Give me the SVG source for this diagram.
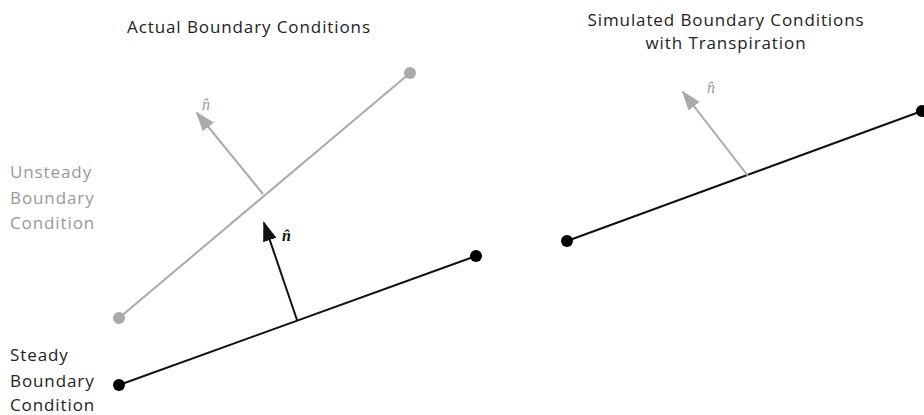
<svg xmlns="http://www.w3.org/2000/svg" width="924" height="415" viewBox="0 0 924 415">
<style>
.t{font-family:"Open Sans","DejaVu Sans",sans-serif;font-size:17px;letter-spacing:0.9px;fill:#222}
.g{fill:#999}
.n{font-family:"Liberation Serif","DejaVu Serif",serif;font-style:italic;font-size:16px}
.gl{stroke:#aaa;stroke-width:2;fill:none}
.bl{stroke:#111;stroke-width:2;fill:none}
</style>
<defs>
<marker id="ag" viewBox="0 0 20 14" refX="18" refY="7" markerWidth="20" markerHeight="14" markerUnits="userSpaceOnUse" orient="auto"><path d="M0,0 L20,7 L0,14 Z" fill="#aaa"/></marker>
<marker id="ab" viewBox="0 0 20 14" refX="18" refY="7" markerWidth="20" markerHeight="14" markerUnits="userSpaceOnUse" orient="auto"><path d="M0,0 L20,7 L0,14 Z" fill="#111"/></marker>
</defs>
<g id="connectors">
<line id="unsteady-line" class="gl" x1="119" y1="318" x2="410" y2="73"/>
<line id="unsteady-normal" class="gl" x1="263" y1="194" x2="197" y2="113" marker-end="url(#ag)"/>
<line id="steady-line" class="bl" x1="119" y1="385" x2="476" y2="256"/>
<line id="steady-normal" class="bl" x1="297" y1="320" x2="264" y2="223" marker-end="url(#ab)"/>
<line id="sim-line" class="bl" x1="567" y1="241" x2="922" y2="111"/>
<line id="sim-normal" class="gl" x1="748" y1="176" x2="683" y2="92" marker-end="url(#ag)"/>
</g>
<g id="unsteady-ends"><circle cx="119" cy="318" r="6" fill="#aaa"/><circle cx="410" cy="73" r="6" fill="#aaa"/></g>
<g id="steady-ends"><circle cx="119" cy="385" r="6" fill="#000"/><circle cx="476" cy="256" r="6" fill="#000"/></g>
<g id="sim-ends"><circle cx="567" cy="241" r="6" fill="#000"/><circle cx="922" cy="111" r="6" fill="#000"/></g>
<g id="labels">
<text class="t" x="249" y="33" text-anchor="middle">Actual Boundary Conditions</text>
<text class="t" x="726" y="26" text-anchor="middle">Simulated Boundary Conditions</text>
<text class="t" x="726" y="49" text-anchor="middle">with Transpiration</text>
<text class="t g" x="10" y="178">Unsteady</text>
<text class="t g" x="10" y="204">Boundary</text>
<text class="t g" x="10" y="229">Condition</text>
<text class="t" x="10" y="361">Steady</text>
<text class="t" x="10" y="387">Boundary</text>
<text class="t" x="10" y="411">Condition</text>
<text class="n" x="202" y="110" fill="#999">n̂</text>
<text class="n" x="282" y="241" fill="#111" font-weight="bold">n̂</text>
<text class="n" x="707" y="93" fill="#999">n̂</text>
</g>
</svg>
